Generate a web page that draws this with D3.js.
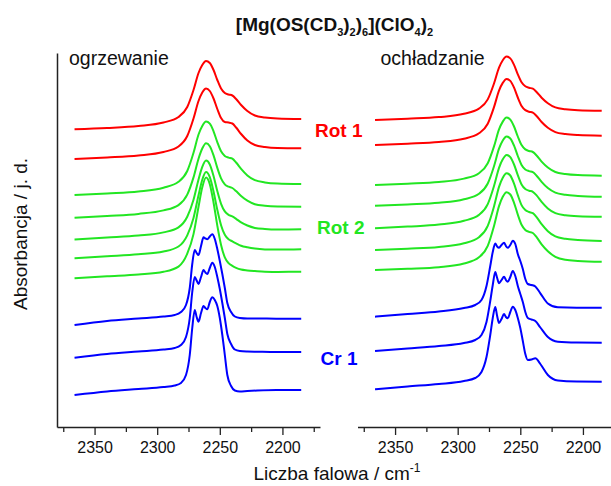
<!DOCTYPE html>
<html><head><meta charset="utf-8">
<script src="https://cdn.jsdelivr.net/npm/d3@7/dist/d3.min.js"></script>
<style>body{margin:0;background:#fff}svg{display:block}</style>
</head><body>
<svg id="chart" width="611" height="486"></svg>
<script>
// wavenumber grids (cm-1)
const wnMain = [2366, 2340, 2315, 2295, 2283, 2276, 2271, 2267, 2264, 2261, 2258, 2255, 2252, 2249, 2246, 2243, 2240, 2237, 2233, 2228, 2222, 2214, 2204, 2185];
const wnCr = [2366, 2340, 2315, 2295, 2286, 2281, 2277, 2274, 2272, 2270, 2268.5, 2267, 2265, 2263, 2261.5, 2260, 2258, 2256, 2254, 2252, 2250, 2248, 2246, 2244, 2241, 2238, 2234, 2228, 2220, 2205, 2185];

// heating (ogrzewanie) – stacked absorbance, arbitrary units
const heatingRot1 = [
  [300.7, 302, 304, 307.5, 313, 323, 340, 357, 365, 369, 367, 360, 350, 341.5, 337, 335.5, 334.5, 331, 325, 319, 314.5, 312.5, 311.5, 311],
  [271, 272.5, 274.5, 278, 283.5, 294, 311.5, 329, 337.5, 341.5, 339, 331.5, 321, 312, 308, 307.5, 306.5, 302.5, 296, 289.5, 285, 283, 282, 281.7]
];
const heatingRot2 = [
  [235, 236.6, 238.5, 242.3, 248.2, 259, 277.2, 295.5, 304.1, 308.4, 306.3, 298.7, 287.9, 278.7, 274.1, 272.4, 271.3, 267.5, 261.1, 254.6, 249.8, 247.6, 246.5, 246],
  [212.3, 214.1, 216.1, 219.6, 224.9, 235.4, 252.6, 271.3, 281.5, 286.7, 283.8, 274.6, 262.1, 251.6, 245.6, 243.3, 242, 238.9, 234, 229.3, 225.8, 224.2, 223.5, 223.3],
  [190.5, 192.4, 194.4, 197.6, 202.7, 213.3, 230.2, 250.6, 263.2, 269.4, 265.5, 254, 238.9, 226.2, 218.6, 215.2, 213.6, 211.2, 207.6, 204.5, 202.1, 201, 200.5, 200.7],
  [171.7, 173.7, 175.7, 178.5, 183.5, 194.7, 212, 234.7, 250.2, 257.9, 252.8, 238.5, 220.2, 204.8, 195.2, 190.8, 188.7, 186.7, 184.3, 182.7, 181.4, 180.6, 180.4, 180.7],
  [151.7, 153.7, 155.5, 158.2, 163.4, 176.3, 195.9, 223.2, 242.7, 252.5, 245.8, 227.5, 204.4, 185.1, 172.6, 166.9, 164.1, 162.2, 160.5, 159.6, 158.9, 158.2, 158.1, 158.3]
];
const heatingCr1 = [
  [105, 109, 111.5, 113.5, 115, 118, 125, 142, 166, 180, 177, 175, 184, 192.7, 191.5, 190.7, 193.5, 195.7, 191, 181, 169, 156, 142, 127, 118, 113.5, 112, 111.5, 111.5, 111.3, 111.3],
  [72.3, 76, 78.5, 80.5, 82, 85, 93, 112, 138, 153, 149.5, 146, 153, 160, 157.5, 156, 162, 167.3, 163, 153, 141, 127, 112, 96, 86, 80.5, 79, 78.5, 78.3, 78, 78],
  [35, 38.5, 41, 43, 44.5, 47, 55, 75, 102, 120, 113, 108.3, 117, 124, 122, 120.7, 128, 132.7, 130, 124, 112, 95, 75, 55, 44, 39.5, 38.5, 39, 39.5, 40, 40]
];

// cooling (ochładzanie)
const coolingRot1 = [
  [310, 311.3, 312.9, 316.2, 321.4, 330.6, 346.5, 362.3, 369.7, 373.4, 371.6, 365.1, 355.7, 347.7, 343.7, 342.2, 341.3, 338, 332.3, 326.8, 322.6, 320.8, 319.8, 319.3],
  [285, 286.3, 288, 291.3, 296.7, 306.3, 322.9, 339.4, 347.1, 351, 349.1, 342.3, 332.5, 324.1, 319.9, 318.3, 317.4, 314, 308, 302.2, 297.9, 295.9, 294.9, 294.3]
];
const coolingRot2 = [
  [245, 246.3, 248, 251.4, 256.8, 266.7, 283.6, 300.6, 308.4, 312.4, 310.4, 303.5, 293.5, 284.9, 280.6, 279, 278, 274.5, 268.4, 262.5, 258, 256, 254.9, 254.3],
  [224.3, 225.6, 227.2, 230.7, 236.2, 246.5, 263.8, 281.3, 289.5, 293.5, 291.5, 284.3, 274, 265.1, 260.6, 258.9, 257.9, 254.3, 248.1, 241.9, 237.3, 235.2, 234.1, 233.3],
  [201.7, 203.4, 205.4, 209.2, 215.1, 225.9, 244, 262.2, 270.7, 275, 272.9, 265.5, 254.8, 245.6, 241, 239.3, 238.2, 234.6, 228.1, 221.6, 216.9, 214.8, 213.8, 213.3],
  [180, 181.3, 183, 186.7, 192.8, 204.2, 223.6, 243.1, 252.2, 256.7, 254.5, 246.3, 234.8, 224.9, 219.9, 218, 216.8, 212.8, 205.8, 198.8, 193.6, 191.2, 190, 189],
  [160, 161.2, 162.8, 166.5, 172.7, 184.2, 204.1, 223.9, 233.2, 237.8, 235.5, 227.2, 215.4, 205.3, 200.1, 198.2, 197, 192.8, 185.7, 178.8, 173.2, 170.2, 169.1, 168.3]
];
const coolingCr1 = [
  [113.3, 116, 118.5, 122, 125, 130, 144, 164, 178, 186.5, 183.5, 182.3, 185, 187.3, 184, 182.3, 185, 189.3, 186, 176, 169, 161, 151, 146, 145, 143.5, 136.7, 126.5, 122.7, 122.3, 122.3],
  [79, 81.5, 84, 87, 90, 95, 108, 129, 145, 158, 152, 146.7, 150, 153.3, 150, 148.3, 153, 159, 154, 144, 136, 128, 118, 112, 110.5, 109, 102.5, 93, 88.3, 87.5, 87.3],
  [40.7, 43.5, 46, 49, 52, 58, 73, 95, 112, 123, 114, 107, 111, 116, 113, 111.7, 118, 123.3, 120, 112, 102, 89, 76, 70, 70.5, 71.7, 66, 55, 49.5, 48.5, 48.3]
];

const xTicks = [2350, 2300, 2250, 2200];
const xMinorTicks = [2375, 2325, 2275, 2225, 2175];
const panelTitles = ["ogrzewanie", "ochładzanie"];
const phaseLabels = ["Rot 1", "Rot 2", "Cr 1"];
const phaseColors = ["#ff0000", "#22e622", "#0000ff"];

const FONT = "'Liberation Sans', Arial, Helvetica, sans-serif";
const svg = d3.select("#chart");

const y = d3.scaleLinear().domain([3, 377]).range([427, 53]);
const xLeft = d3.scaleLinear().domain([2380, 2170]).range([57, 320]);
const xRight = d3.scaleLinear().domain([2380, 2170]).range([357.5, 620.5]);

const panels = [
  {x: xLeft, groups: [heatingCr1, heatingRot2, heatingRot1]},
  {x: xRight, groups: [coolingCr1, coolingRot2, coolingRot1]}
];
const groupColors = [phaseColors[2], phaseColors[1], phaseColors[0]];
const groupGrids = [wnCr, wnMain, wnMain];

panels.forEach((p, pi) => {
  const line = d3.line()
    .x(d => p.x(d[0]))
    .y(d => y(d[1]))
    .curve(d3.curveMonotoneX);
  p.groups.forEach((grp, gi) => {
    const wn = groupGrids[gi];
    svg.append("g").selectAll("path")
      .data(grp)
      .join("path")
      .attr("d", vals => line(vals.map((v, i) => [wn[i], v])))
      .attr("fill", "none")
      .attr("stroke", groupColors[gi])
      .attr("stroke-width", 2)
      .attr("stroke-linejoin", "round");
  });

  // major axis
  const gx = svg.append("g")
    .attr("transform", `translate(0,${y(3)})`)
    .call(d3.axisBottom(p.x).tickValues(xTicks).tickSize(8).tickSizeOuter(0).tickPadding(7).tickFormat(d3.format("d")));
  gx.select(".domain").attr("stroke", "#222").attr("stroke-width", 1.5);
  gx.selectAll(".tick line").attr("stroke", "#222").attr("stroke-width", 1.3);
  gx.selectAll(".tick text").attr("font-family", FONT).attr("font-size", 16).attr("fill", "#111");
  // minor ticks
  const gm = svg.append("g")
    .attr("transform", `translate(0,${y(3)})`)
    .call(d3.axisBottom(p.x).tickValues(xMinorTicks).tickSize(5).tickFormat(""));
  gm.select(".domain").remove();
  gm.selectAll(".tick line").attr("stroke", "#222").attr("stroke-width", 1.3);

  svg.append("text")
    .attr("x", pi === 0 ? 69 : 380.5)
    .attr("y", 65)
    .attr("font-family", FONT)
    .attr("font-size", 19.5)
    .attr("fill", "#111")
    .text(panelTitles[pi]);
});

// left y axis (no ticks)
const gy = svg.append("g")
  .attr("transform", `translate(${xLeft(2380)},0)`)
  .call(d3.axisLeft(y).tickValues([]).tickSizeOuter(0));
gy.select(".domain").attr("stroke", "#222").attr("stroke-width", 1.5);

// phase labels
const labelPos = [[315, 137], [317, 234], [320.5, 365]];
phaseLabels.forEach((t, i) => {
  svg.append("text")
    .attr("x", labelPos[i][0]).attr("y", labelPos[i][1])
    .attr("font-family", FONT).attr("font-size", 19).attr("font-weight", "bold")
    .attr("fill", phaseColors[i])
    .text(t);
});

// title with subscripts
const title = svg.append("text")
  .attr("x", 334.5).attr("y", 31)
  .attr("text-anchor", "middle")
  .attr("font-family", FONT).attr("font-size", 19).attr("font-weight", "bold")
  .attr("fill", "#111");
const parts = [["[Mg(OS(CD", 0], ["3", 1], [")", 0], ["2", 1], [")", 0], ["6", 1], ["](ClO", 0], ["4", 1], [")", 0], ["2", 1]];
let prevSub = false;
parts.forEach(([t, sub]) => {
  const ts = title.append("tspan").text(t);
  if (sub) { ts.attr("font-size", 11); if (!prevSub) ts.attr("dy", 5); }
  else if (prevSub) ts.attr("dy", -5);
  prevSub = !!sub;
});

// x axis title
const xt = svg.append("text")
  .attr("x", 337).attr("y", 480)
  .attr("text-anchor", "middle")
  .attr("font-family", FONT).attr("font-size", 19)
  .attr("fill", "#111");
xt.append("tspan").text("Liczba falowa / cm");
xt.append("tspan").attr("font-size", 12).attr("dy", -8).text("-1");

// y axis title
svg.append("text")
  .attr("transform", "translate(27,234) rotate(-90)")
  .attr("text-anchor", "middle")
  .attr("font-family", FONT).attr("font-size", 19)
  .attr("fill", "#111")
  .text("Absorbancja / j. d.");
</script>
</body></html>
